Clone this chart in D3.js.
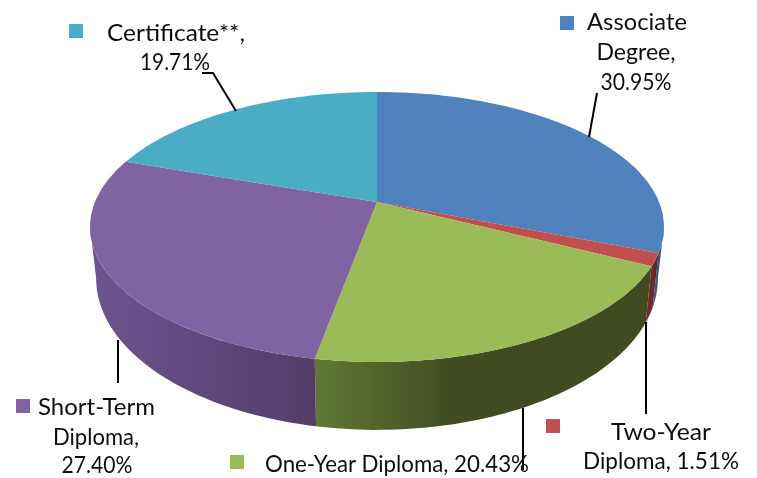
<!DOCTYPE html>
<html><head><meta charset="utf-8">
<script src="https://cdn.jsdelivr.net/npm/d3@7"></script>
<style>html,body{margin:0;background:#fff}svg{display:block}
text{font-family:Lato,"Open Sans",sans-serif;font-size:23px;fill:#111}</style>
</head><body><svg id="c" width="757" height="478"></svg>
<script>
const categories = ["Associate Degree","Two-Year Diploma","One-Year Diploma","Short-Term Diploma","Certificate**"];
const values = [30.95,1.51,20.43,27.40,19.71];
const topColors = ["#4f81bd","#c0504d","#9bbb59","#8064a2","#4bacc6"];
const wallLeft = ["#3d6390","#7a2f2d","#617833","#6d5590","#35798c"];
const wallRight = ["#2b4568","#5e2523","#3f4b22","#533c68","#2b6070"];
const wallDarkAt = [1,1,0.42,1,1];
const labelLines = [
 [["Associate",587,30,100,"start"],["Degree,",636,60,79,"middle"],["30.95%",636,90,71,"middle"]],
 [["Two-Year",661,440,100,"middle"],["Diploma, 1.51%",661,469,156,"middle"]],
 [["One-Year Diploma, 20.43%",265,472,264,"start"]],
 [["Short-Term",38,415,117,"start"],["Diploma,",96,445,86,"middle"],["27.40%",97,473,71,"middle"]],
 [["Certificate**,",107,41,138,"start"],["19.71%",175,70,70,"middle"]]
];
const legendPos = [[560,16],[546,419],[230,455],[16,399],[69,24]];
const leaders = [
 [[597,93],[589,137]],
 [[646,322],[646,414]],
 [[523,408],[523,470]],
 [[118,340],[118,383]],
 [[202,73],[213,73],[236,111]]
];
const svg = d3.select("#c");
const defs = svg.append("defs");
defs.append("filter").attr("id","soft").append("feGaussianBlur").attr("stdDeviation",0.7);
defs.append("filter").attr("id","softT").append("feGaussianBlur").attr("stdDeviation",0.35);

const cx=377,k=0.185;
const topP={R:282,y0:202,a:130.4}, botP={R:276,y0:250.5,a:146.2};
const proj=(t,p)=>{const u=Math.sin(t),v=-Math.cos(t),w=1-k*v;return [cx+p.R*u/w,p.y0+p.a*v/w];};
const arcs=d3.pie().sort(null).value(d=>d)(values);
const samples=(a,b)=>d3.range(0,61).map(i=>a+(b-a)*i/60);
const line=d3.line();
const visA=Math.acos(-k), visB=2*Math.PI-visA;
const g=svg.append("g").attr("filter","url(#soft)");

arcs.forEach((s,i)=>{
  const a=Math.max(s.startAngle,visA), b=Math.min(s.endAngle,visB);
  if(b<=a) return;
  const ts=samples(a,b);
  const poly=ts.map(t=>proj(t,topP)).concat(ts.slice().reverse().map(t=>proj(t,botP)));
  const xs=d3.extent(poly,p=>p[0]);
  const id="w"+i;
  const gr=defs.append("linearGradient").attr("id",id).attr("gradientUnits","userSpaceOnUse")
    .attr("x1",xs[0]).attr("x2",xs[1]).attr("y1",0).attr("y2",0);
  gr.append("stop").attr("offset",0).attr("stop-color",wallLeft[i]);
  gr.append("stop").attr("offset",wallDarkAt[i]).attr("stop-color",wallRight[i]);
  g.append("path").attr("d",line(poly)+"Z").attr("fill",`url(#${id})`);
});
arcs.forEach((s,i)=>{
  const poly=[proj(0,{R:0,y0:topP.y0,a:0})].concat(samples(s.startAngle,s.endAngle).map(t=>proj(t,topP)));
  g.append("path").attr("d",line(poly)+"Z").attr("fill",topColors[i]);
});
leaders.forEach(l=>svg.append("path").attr("d",line(l)).attr("fill","none").attr("stroke","#000").attr("stroke-width",2));
const t=svg.append("g").attr("filter","url(#softT)");
legendPos.forEach((p,i)=>t.append("rect").attr("x",p[0]).attr("y",p[1]).attr("width",14).attr("height",14).attr("fill",topColors[i]));
labelLines.forEach(ls=>ls.forEach(l=>{
  t.append("text").attr("x",l[1]).attr("y",l[2]).attr("text-anchor",l[4]).attr("textLength",l[3]).attr("lengthAdjust","spacingAndGlyphs").text(l[0]);
}));
</script></body></html>
